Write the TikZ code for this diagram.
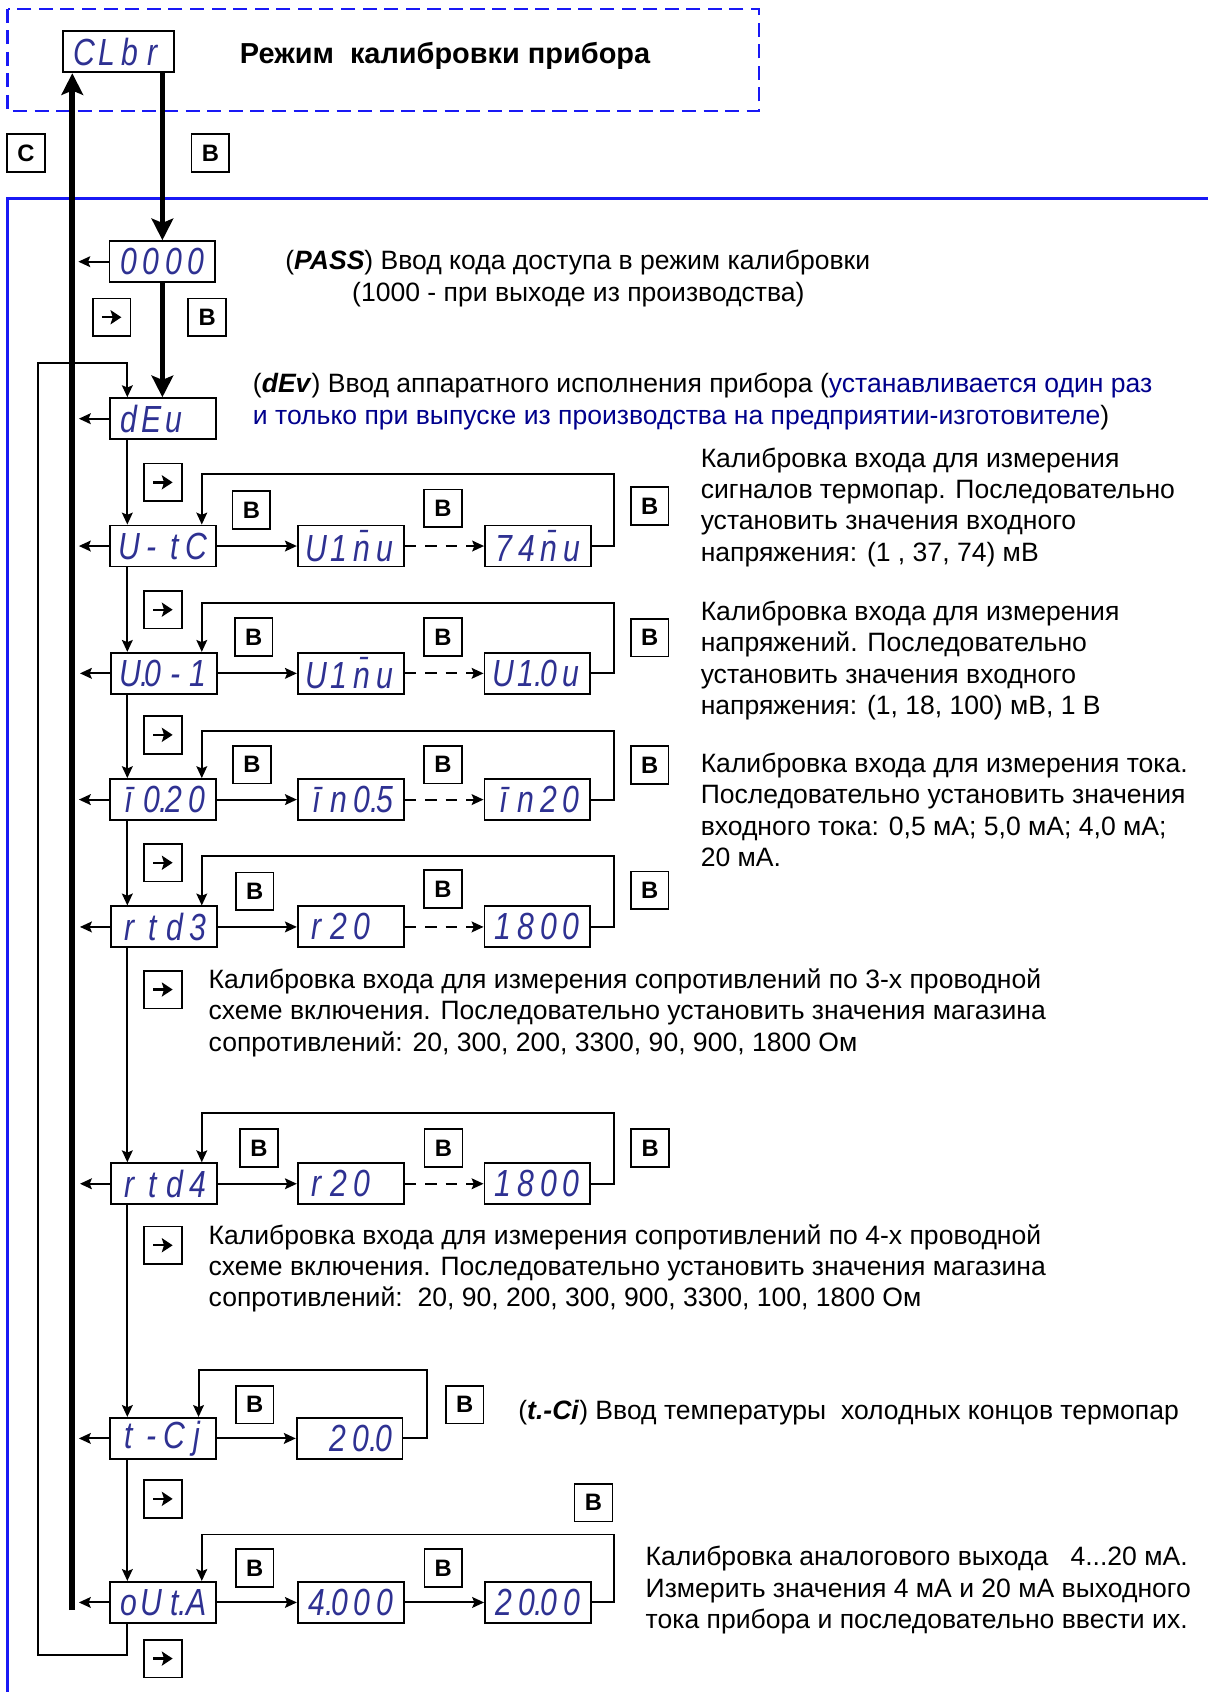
\documentclass[tikz,border=0pt]{standalone}
\usepackage{fontspec}
\setmainfont{Liberation Sans}
\newfontfamily\segfont{Liberation Sans}[FakeStretch=0.8]
\usetikzlibrary{arrows.meta}
\definecolor{segblue}{RGB}{46,49,146}
\definecolor{frameblue}{RGB}{25,25,245}
\definecolor{navytext}{RGB}{0,0,140}
\newcommand\dg[1]{\makebox[10.5pt][c]{#1}}
\newcommand\dgp[1]{\makebox[10.5pt][c]{#1\rlap{.}}}
\begin{document}
\begin{tikzpicture}[x=0.5pt,y=-0.5pt,
  disp/.style={draw=black, line width=0.9pt, fill=white, minimum width=49pt, minimum height=19pt, inner sep=0pt, text=segblue, font=\segfont\itshape\fontsize{17.5}{17.5}\selectfont},
  keybox/.style={draw=black, line width=0.8pt, fill=white, minimum width=17.5pt, minimum height=17.5pt, inner sep=0pt, font=\bfseries\fontsize{11}{11}\selectfont},
  arrkey/.style={keybox, path picture={\draw[line width=1.1pt,-{Stealth[length=5pt,width=6.5pt,inset=1pt]}] ([xshift=-4.5pt]path picture bounding box.center) -- ([xshift=4.5pt]path picture bounding box.center);}},
  tarr/.style={line width=0.9pt, -{Stealth[length=5.5pt,width=5pt,inset=1pt]}},
  dashline/.style={dash pattern=on 5.5pt off 4pt},
  thickarr/.style={line width=2.6pt, -{Stealth[length=10pt,width=10pt,inset=2pt]}},
  txt/.style={anchor=base west, align=left, inner sep=0pt, font=\fontsize{12.3}{14.5}\selectfont}
]
\useasboundingbox (0,0) rectangle (1119,1568);
% frames
\draw[frameblue, line width=1pt] (7,1568) -- (7,184) -- (1119,184);
\draw[frameblue, line width=1pt, dash pattern=on 6.5pt off 3.5pt] (7,8) rectangle (703,103);

% displays
\node[disp, minimum width=51.5pt] (clbr) at (110,48) {\dg{C}\dg{L}\dg{b}\dg{r}};
\node[disp] (p0) at (150.5,242.5) {\dg{0}\dg{0}\dg{0}\dg{0}};
\node[disp] (dev) at (151,388) {\dg{d}\dg{E}\dg{u}\dg{}};
\node[disp] (utc) at (151,506) {\dg{U}\dg{-}\dg{t}\dg{C}};
\node[disp] (utca) at (325,506) {\dg{U}\dg{1}\dg{\=n}\dg{u}};
\node[disp] (utcb) at (498.5,506) {\dg{7}\dg{4}\dg{\=n}\dg{u}};
\node[disp] (u01) at (152,624) {\dgp{U}\dg{0}\dg{-}\dg{1}};
\node[disp] (u01a) at (325,624) {\dg{U}\dg{1}\dg{\=n}\dg{u}};
\node[disp] (u01b) at (498,624) {\dg{U}\dgp{1}\dg{0}\dg{u}};
\node[disp] (i20) at (151,741) {\dg{ī}\dgp{0}\dg{2}\dg{0}};
\node[disp] (i20a) at (325,741) {\dg{ī}\dg{n}\dgp{0}\dg{5}};
\node[disp] (i20b) at (498,741) {\dg{ī}\dg{n}\dg{2}\dg{0}};
\node[disp] (rtd3) at (152,859) {\dg{r}\dg{t}\dg{d}\dg{3}};
\node[disp] (r3a) at (325,859) {\dg{r}\dg{2}\dg{0}\dg{}};
\node[disp] (r3b) at (498,859) {\dg{1}\dg{8}\dg{0}\dg{0}};
\node[disp] (rtd4) at (152,1097) {\dg{r}\dg{t}\dg{d}\dg{4}};
\node[disp] (r4a) at (325,1097) {\dg{r}\dg{2}\dg{0}\dg{}};
\node[disp] (r4b) at (498,1097) {\dg{1}\dg{8}\dg{0}\dg{0}};
\node[disp] (tcj) at (151,1333) {\dg{t}\dg{-}\dg{C}\dg{j}};
\node[disp] (tcja) at (324,1333) {\dg{}\dg{2}\dgp{0}\dg{0}};
\node[disp] (out) at (151,1485) {\dg{o}\dg{U}\dgp{t}\dg{A}};
\node[disp] (outa) at (325,1485) {\dgp{4}\dg{0}\dg{0}\dg{0}};
\node[disp] (outb) at (498.5,1485) {\dg{2}\dgp{0}\dg{0}\dg{0}};

% keys
\node[keybox] (kc) at (24,142) {C};
\node[keybox] (kb0) at (195,142) {B};
\node[arrkey] (ka1) at (103.5,294) {};
\node[keybox] (kb1) at (192,294) {B};
\node[arrkey] (ka2) at (151,447) {};
\node[keybox] (kb2a) at (233,472.5) {B};
\node[keybox] (kb2b) at (410.5,471) {B};
\node[keybox] (kb2c) at (602,469) {B};
\node[arrkey] (ka3) at (151,565) {};
\node[keybox] (kb3a) at (235,590.5) {B};
\node[keybox] (kb3b) at (410.5,590.5) {B};
\node[keybox] (kb3c) at (602,591) {B};
\node[arrkey] (ka4) at (151,681) {};
\node[keybox] (kb4a) at (233.5,708.6) {B};
\node[keybox] (kb4b) at (410.5,708.6) {B};
\node[keybox] (kb4c) at (602,709) {B};
\node[arrkey] (ka5) at (151,799.5) {};
\node[keybox] (kb5a) at (236,826) {B};
\node[keybox] (kb5b) at (410.5,824) {B};
\node[keybox] (kb5c) at (602,825) {B};
\node[arrkey] (ka6) at (151,917) {};
\node[keybox] (kb6a) at (240,1064) {B};
\node[keybox] (kb6b) at (411,1064) {B};
\node[keybox] (kb6c) at (602.5,1064) {B};
\node[arrkey] (ka7) at (151,1154) {};
\node[keybox] (kb7a) at (236,1301.6) {B};
\node[keybox] (kb7b) at (430.6,1301.6) {B};
\node[arrkey] (ka8) at (151,1389) {};
\node[keybox] (kb8) at (550,1392.5) {B};
\node[keybox] (kb9a) at (236,1453) {B};
\node[keybox] (kb9b) at (410.8,1453) {B};
\node[arrkey] (ka9) at (151,1537) {};

% thick connectors
\coordinate (cbot) at (67,1492);
\draw[thickarr] (cbot) -- (cbot |- clbr.south);
\draw[thickarr] (p0.north |- clbr.south) -- (p0.north);
\draw[thickarr] (p0.south) -- (p0.south |- dev.north);

% left arrows
\foreach \n in {p0,dev,utc,u01,i20,rtd3,rtd4,tcj,out}
  \draw[tarr] (\n.west) -- ++(-28,0);

% vertical chain
\coordinate (vx) at (118,0);
\draw[tarr] (dev.south -| vx) -- (utc.north -| vx);
\draw[tarr] (utc.south -| vx) -- (u01.north -| vx);
\draw[tarr] (u01.south -| vx) -- (i20.north -| vx);
\draw[tarr] (i20.south -| vx) -- (rtd3.north -| vx);
\draw[tarr] (rtd3.south -| vx) -- (rtd4.north -| vx);
\draw[tarr] (rtd4.south -| vx) -- (tcj.north -| vx);
\draw[tarr] (tcj.south -| vx) -- (out.north -| vx);
\draw[tarr] (out.south -| vx) -- (118,1534) -- (35,1534) -- (35,336) -- (118,336) -- (dev.north -| vx);

% rows
\draw[tarr] (utc.east) -- (utca.west);
\draw[tarr, dashline] (utca.east) -- (utcb.west);
\draw[tarr] (utcb.east) -- (569,506) -- (569,439) -- (187,439) -- (utc.north -| 187,0);

\draw[tarr] (u01.east) -- (u01a.west);
\draw[tarr, dashline] (u01a.east) -- (u01b.west);
\draw[tarr] (u01b.east) -- (569,624) -- (569,558.6) -- (187,558.6) -- (u01.north -| 187,0);

\draw[tarr] (i20.east) -- (i20a.west);
\draw[tarr, dashline] (i20a.east) -- (i20b.west);
\draw[tarr] (i20b.east) -- (569,741) -- (569,677.7) -- (187,677.7) -- (i20.north -| 187,0);

\draw[tarr] (rtd3.east) -- (r3a.west);
\draw[tarr, dashline] (r3a.east) -- (r3b.west);
\draw[tarr] (r3b.east) -- (569,859) -- (569,793) -- (187,793) -- (rtd3.north -| 187,0);

\draw[tarr] (rtd4.east) -- (r4a.west);
\draw[tarr, dashline] (r4a.east) -- (r4b.west);
\draw[tarr] (r4b.east) -- (569,1097) -- (569,1031) -- (187,1031) -- (rtd4.north -| 187,0);

\draw[tarr] (tcj.east) -- (tcja.west);
\draw[tarr] (tcja.east) -- (396,1333) -- (396,1270) -- (184,1270) -- (tcj.north -| 184,0);

\draw[tarr] (out.east) -- (outa.west);
\draw[tarr] (outa.east) -- (outb.west);
\draw[tarr] (outb.east) -- (569,1485) -- (569,1422) -- (187,1422) -- (out.north -| 187,0);

% texts (multi-line nodes: base = baseline of last line)
\node[anchor=base west, inner sep=0pt, font=\bfseries\fontsize{13.4}{15}\selectfont] (title) at (222,58.6) {Режим\ \ калибровки прибора};
\node[txt] (pass1) at (264,250) {(\textbf{\textit{PASS}}) Ввод кода доступа в режим калибровки};
\node[txt] (pass2) at (326,279) {(1000 - при выходе из производства)};
\node[txt] (devt) at (234,393) {(\textbf{\textit{dEv}}) Ввод аппаратного исполнения прибора (\textcolor{navytext}{устанавливается один раз}\\\textcolor{navytext}{и только при выпуске из производства на предприятии-изготовителе})};
\node[txt] (t1) at (649,520) {Калибровка входа для измерения\\сигналов термопар. Последовательно\\установить значения входного\\напряжения: (1 , 37, 74) мВ};
\node[txt] (t2) at (649,662) {Калибровка входа для измерения\\напряжений. Последовательно\\установить значения входного\\напряжения: (1, 18, 100) мВ, 1 В};
\node[txt] (t3) at (649,803) {Калибровка входа для измерения тока.\\Последовательно установить значения\\входного тока: 0,5 мА; 5,0 мА; 4,0 мА;\\20 мА.};
\node[txt] (t4) at (193,974) {Калибровка входа для измерения сопротивлений по 3-х проводной\\схеме включения. Последовательно установить значения магазина\\сопротивлений: 20, 300, 200, 3300, 90, 900, 1800 Ом};
\node[txt] (t5) at (193,1211) {Калибровка входа для измерения сопротивлений по 4-х проводной\\схеме включения. Последовательно установить значения магазина\\сопротивлений:\ \ 20, 90, 200, 300, 900, 3300, 100, 1800 Ом};
\node[txt] (t6) at (480,1315) {(\textbf{\textit{t.-Ci}}) Ввод температуры\ \ холодных концов термопар};
\node[txt] (t7) at (598,1509) {Калибровка аналогового выхода\ \ \ 4...20 мА.\\Измерить значения 4 мА и 20 мА выходного\\тока прибора и последовательно ввести их.};
\end{tikzpicture}
\end{document}
